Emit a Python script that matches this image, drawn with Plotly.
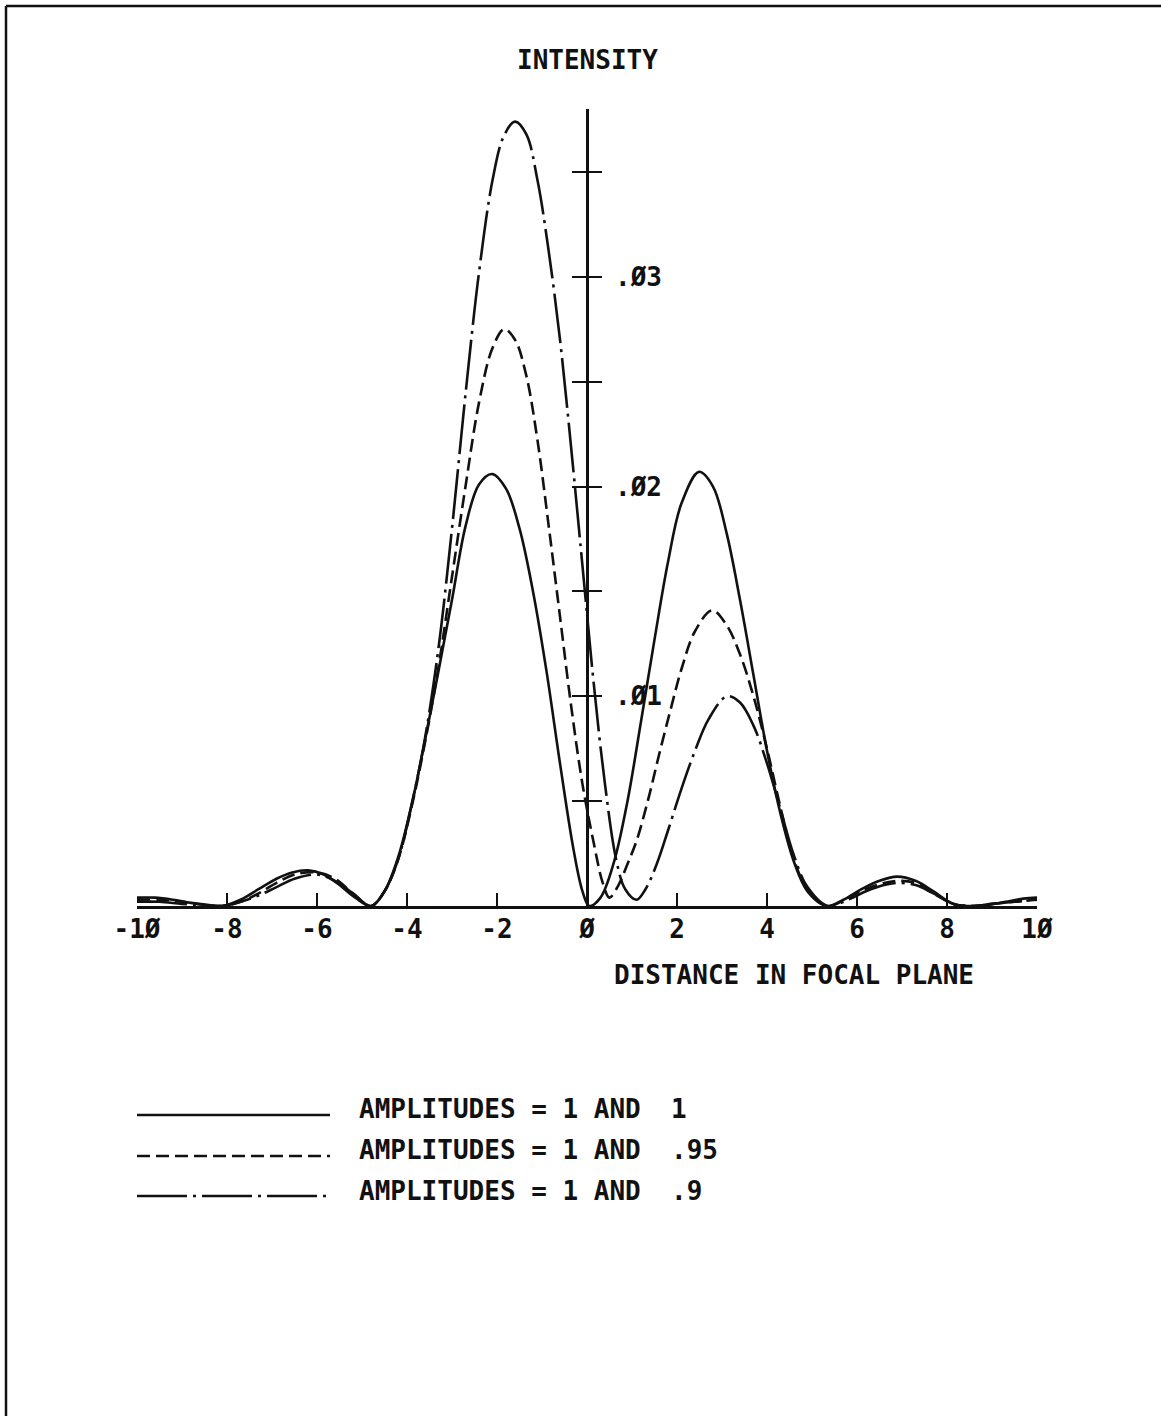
import plotly.graph_objects as go

# ---------------- data ----------------
x_tick_vals = [-10, -8, -6, -4, -2, 0, 2, 4, 6, 8, 10]
x_tick_text = ["-1Ø", "-8", "-6", "-4", "-2", "Ø", "2", "4", "6", "8", "1Ø"]
y_tick_vals = [0.005, 0.01, 0.015, 0.02, 0.025, 0.03, 0.035]
y_tick_text = ["", ".Ø1", "", ".Ø2", "", ".Ø3", ""]

# amplitudes = 1 and 1 (solid)
solid_x = [-10, -9.6, -9.2, -8.8, -8.4, -8.1, -7.7, -7.3, -6.9, -6.55, -6.2, -5.85, -5.5, -5.15,
           -4.8, -4.5, -4.2, -3.9, -3.6, -3.3, -3.0, -2.7, -2.4, -2.11, -1.8, -1.5, -1.2, -0.9,
           -0.6, -0.3, -0.1, 0.05, 0.3, 0.6, 0.9, 1.2, 1.5, 1.8, 2.1, 2.49, 2.8, 3.1, 3.4, 3.7,
           4.0, 4.3, 4.6, 4.9, 5.33, 5.7, 6.1, 6.5, 6.89, 7.3, 7.7, 8.13, 8.5, 8.9, 9.3, 9.7, 10]
solid_y = [0.0004, 0.0004, 0.0003, 0.00015, 0.00005, 0.0, 0.0003, 0.0008, 0.0013, 0.0016,
           0.0017, 0.0015, 0.0010, 0.0004, 0.0, 0.0007, 0.0023, 0.0048, 0.0079, 0.0112, 0.0146,
           0.0181, 0.0201, 0.0206, 0.0199, 0.0180, 0.0150, 0.0112, 0.0068, 0.0027, 0.0007, 0.0,
           0.0004, 0.0021, 0.0050, 0.0088, 0.0127, 0.0164, 0.0192, 0.0207, 0.0200, 0.0178,
           0.0146, 0.0110, 0.0074, 0.0044, 0.0021, 0.0007, 0.0, 0.0003, 0.0008, 0.0012, 0.0014,
           0.0012, 0.0007, 0.0001, 0.0, 0.00005, 0.0002, 0.00035, 0.0004]

# amplitudes = 1 and .95 (dashed)
dash_x = [-10, -9.5, -9.0, -8.5, -8.1, -7.7, -7.3, -6.9, -6.5, -6.0, -5.6, -5.2, -4.8, -4.5, -4.2,
          -3.9, -3.6, -3.3, -3.0, -2.7, -2.4, -2.1, -1.84, -1.6, -1.35, -1.1, -0.85, -0.6, -0.35,
          -0.1, 0.15, 0.35, 0.5, 0.7, 0.9, 1.1, 1.35, 1.6, 1.85, 2.1, 2.4, 2.78, 3.1, 3.4, 3.7,
          4.0, 4.3, 4.6, 4.9, 5.35, 5.8, 6.2, 6.6, 6.9, 7.3, 7.7, 8.15, 8.6, 9.0, 9.5, 10]
dash_y = [0.0003, 0.0003, 0.0002, 0.00005, 0.0, 0.0002, 0.0006, 0.0011, 0.0015, 0.0016, 0.0013,
          0.0006, 0.0, 0.0007, 0.0022, 0.0047, 0.0078, 0.0114, 0.0157, 0.0200, 0.0240, 0.0266,
          0.0275, 0.0270, 0.0253, 0.0222, 0.0181, 0.0138, 0.0095, 0.0058, 0.0030, 0.0011,
          0.0004, 0.0010, 0.0020, 0.0031, 0.0050, 0.0072, 0.0093, 0.0113, 0.0131, 0.0141,
          0.0134, 0.0120, 0.0100, 0.0075, 0.0047, 0.0022, 0.0008, 0.0, 0.0004, 0.0008, 0.0011,
          0.0012, 0.0011, 0.0006, 0.0001, 0.0, 0.0001, 0.0002, 0.0003]

# amplitudes = 1 and .9 (dash-dot)
dd_x = [-10, -9.5, -9.0, -8.5, -8.1, -7.7, -7.3, -6.9, -6.5, -6.0, -5.6, -5.2, -4.8, -4.5, -4.2,
        -3.9, -3.6, -3.3, -3.0, -2.7, -2.4, -2.1, -1.85, -1.6, -1.35, -1.1, -0.85, -0.6, -0.35,
        -0.1, 0.15, 0.4, 0.65, 0.85, 1.1, 1.3, 1.55, 1.8, 2.1, 2.4, 2.7, 3.11, 3.4, 3.7, 4.0,
        4.3, 4.6, 4.9, 5.35, 5.8, 6.2, 6.6, 6.9, 7.3, 7.7, 8.15, 8.6, 9.0, 9.5, 10]
dd_y = [0.0002, 0.0002, 0.0001, 0.00003, 0.0, 0.0002, 0.0005, 0.0009, 0.0013, 0.0015, 0.0012,
        0.0006, 0.0, 0.0007, 0.0022, 0.0048, 0.0080, 0.0123, 0.0180, 0.0244, 0.0302, 0.0346,
        0.0367, 0.0374, 0.0368, 0.0346, 0.0312, 0.0270, 0.0218, 0.0162, 0.0106, 0.0058, 0.0022,
        0.0008, 0.0003, 0.0008, 0.0020, 0.0036, 0.0056, 0.0074, 0.0089, 0.0100, 0.0097, 0.0086,
        0.0068, 0.0046, 0.0024, 0.0009, 0.0, 0.0003, 0.0007, 0.0010, 0.0011, 0.0010, 0.0006,
        0.0001, 0.0, 0.0001, 0.0002, 0.0003]

legend_prefix = "AMPLITUDES = 1 AND"
legend_values = ["1", ".95", ".9"]
title_text = "INTENSITY"
xlabel_text = "DISTANCE IN FOCAL PLANE"

# ---------------- styling ----------------
W, H = 1161, 1416
L, R, T, B = 137, 1161 - 1037, 109, 1416 - 906
FONT = "DejaVu Sans Mono"
FONT_WEIGHT = "bold"
INK = "#111111"
DASHES = ["solid", "13px,6px", "50px,6px,3px,6px"]
LW = 2.6


def px_x(px):
    return (px - L) / (W - L - R)


def px_y(py):
    return (H - B - py) / (H - T - B)


def tfont():
    return dict(family=FONT, size=26, color=INK, weight=FONT_WEIGHT)


fig = go.Figure()
series = [(solid_x, solid_y), (dash_x, dash_y), (dd_x, dd_y)]
for (xs, ys), dash, val in zip(series, DASHES, legend_values):
    fig.add_trace(go.Scatter(x=xs, y=ys, mode="lines", name=f"{legend_prefix} {val}",
                             line=dict(color=INK, width=LW, dash=dash, shape="spline", smoothing=1.0),
                             showlegend=False, hoverinfo="skip"))

# invisible trace to hold the second (left-pointing tick) y axis
fig.add_trace(go.Scatter(x=[None], y=[None], yaxis="y2", showlegend=False, hoverinfo="skip"))

fig.update_layout(
    width=W, height=H,
    margin=dict(l=L, r=R, t=T, b=B, pad=0),
    paper_bgcolor="white", plot_bgcolor="white",
    font=tfont(),
    xaxis=dict(range=[-10, 10], showgrid=False, zeroline=False, showline=True,
               linecolor=INK, linewidth=2.6, ticks="inside", ticklen=13, tickwidth=2.4,
               tickcolor=INK, tickvals=x_tick_vals, ticktext=x_tick_text,
               tickfont=tfont(), ticklabelstandoff=-2),
    yaxis=dict(range=[0, 0.038], showgrid=False, zeroline=False, showline=True,
               linecolor=INK, linewidth=2.6, anchor="free", position=0.5, side="right",
               ticks="outside", ticklen=13, tickwidth=2.4, tickcolor=INK,
               tickvals=y_tick_vals, ticktext=y_tick_text,
               tickfont=tfont(), ticklabelstandoff=8),
    yaxis2=dict(range=[0, 0.038], overlaying="y", anchor="free", position=0.5, side="right",
                showgrid=False, zeroline=False, showline=False, ticks="inside", ticklen=15,
                tickwidth=2.4, tickcolor=INK, tickvals=y_tick_vals, showticklabels=False),
)

ann = [
    dict(x=px_x(587), y=px_y(60), text=title_text, xanchor="center", yanchor="middle"),
    dict(x=px_x(612), y=px_y(975), text=xlabel_text, xanchor="left", yanchor="middle"),
]
legend_text_y = [1109, 1150, 1191]
legend_line_y = [1115, 1156, 1196]
for val, ty in zip(legend_values, legend_text_y):
    ann.append(dict(x=px_x(357), y=px_y(ty), text=legend_prefix, xanchor="left", yanchor="middle"))
    ann.append(dict(x=px_x(669), y=px_y(ty), text=val, xanchor="left", yanchor="middle"))
for a in ann:
    a.update(xref="paper", yref="paper", showarrow=False, font=tfont())
fig.update_layout(annotations=ann)

shapes = []
for dash, ly in zip(DASHES, legend_line_y):
    shapes.append(dict(type="line", xref="paper", yref="paper",
                       x0=px_x(137), x1=px_x(330), y0=px_y(ly), y1=px_y(ly),
                       line=dict(color=INK, width=LW, dash=dash)))
# page frame (left and top edges)
shapes.append(dict(type="line", xref="paper", yref="paper", x0=px_x(6), x1=px_x(6),
                   y0=px_y(6), y1=px_y(1416), line=dict(color=INK, width=2.5)))
shapes.append(dict(type="line", xref="paper", yref="paper", x0=px_x(6), x1=px_x(1161),
                   y0=px_y(6), y1=px_y(6), line=dict(color=INK, width=2.5)))
fig.update_layout(shapes=shapes)

# the page itself should add no margin around the figure; no toolbar
fig.write_html("out.html", config={"displayModeBar": False},
               post_script="document.body.style.margin='0';")
